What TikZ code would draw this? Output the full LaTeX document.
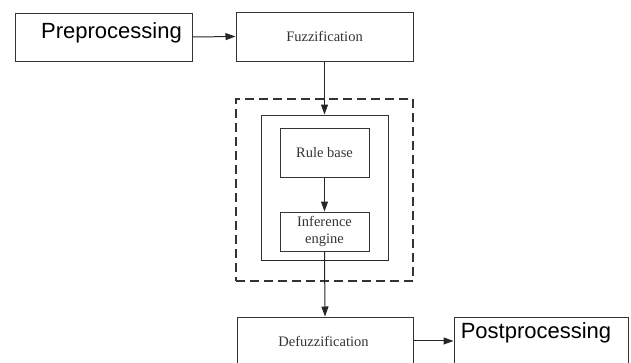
\documentclass[tikz,border=0pt]{standalone}
\usepackage{fontspec}
\setmainfont{Liberation Serif}
\setsansfont{Liberation Sans}
\usetikzlibrary{arrows.meta}
\begin{document}
\begin{tikzpicture}[x=1pt,y=-1pt,
  box/.style={draw=black!80,line width=1pt,inner sep=0pt,minimum width=#1},
  sertext/.style={font=\fontsize{14.5}{17}\selectfont,text=black!80,inner sep=0pt},
  bigtext/.style={font=\sffamily\fontsize{22}{26}\selectfont,text=black,inner sep=0pt,anchor=base},
  arr/.style={draw=black!85,line width=1pt,-{Triangle[length=10pt,width=7pt]}}]
\useasboundingbox (0,0) rectangle (631,362);
% top row
\node[box=177pt,minimum height=48pt] (pre) at (103.5,37) {};
\node[bigtext] (pretxt) at (111.5,38) {Preprocessing};
\node[box=177pt,minimum height=49pt,sertext] (fuzz) at (324.5,36.5) {Fuzzification};
% dashed frame and inner box
\node[draw=black!80,line width=1.5pt,dash pattern=on 9pt off 5pt,minimum width=177pt,minimum height=182pt,inner sep=0pt] (frame) at (324.5,190) {};
\node[box=127pt,minimum height=145pt] (inner) at (324.5,187.5) {};
\draw[black!85,line width=1.4pt] (inner.south west) -- (inner.south east);
\node[box=89pt,minimum height=49pt,sertext] (rule) at (324.5,152.5) {Rule base};
\node[box=89pt,minimum height=39pt,sertext,align=center] (inf) at (324.5,231.5) {Inference\\engine};
% bottom row (boxes run off the page)
\node[box=176pt,minimum height=58pt] (defuzz) at (325,346) {};
\node[sertext,anchor=base] (defuzztxt) at (323.5,346) {Defuzzification};
\node[box=174pt,minimum height=58pt] (post) at (541,346) {};
\node[bigtext] (posttxt) at (536,338) {Postprocessing};
% connectors
\draw[arr] (pre.east) -- (fuzz.west);
\draw[arr] (fuzz.south) -- (inner.north);
\draw[arr] (rule.south) -- (inf.north);
\draw[arr] (inf.south) -- (defuzz.north);
\draw[arr] (defuzz.east|-defuzztxt.center) -- (post.west|-defuzztxt.center);
\end{tikzpicture}
\end{document}
